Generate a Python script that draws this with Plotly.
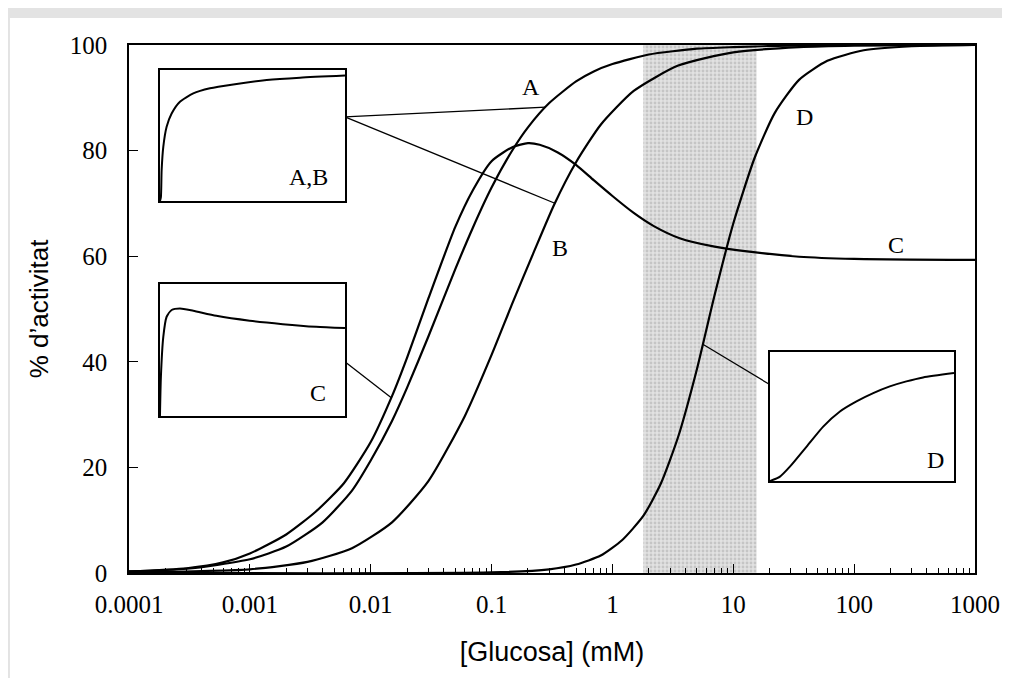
import math
import numpy as np
import plotly.graph_objects as go

# ---------------- data ----------------
GLUC_A = [0.0001, 0.0003, 0.001, 0.002, 0.004, 0.007, 0.01, 0.015, 0.02, 0.03, 0.05, 0.07,
          0.1, 0.15, 0.2, 0.3, 0.5, 0.7, 1, 2, 5, 10, 30, 100, 1000]
ACT_A = [0.3, 0.8, 2.6, 5.0, 9.6, 15.6, 21.3, 28.8, 35.1, 44.8, 57.5, 65.4,
         73.0, 80.2, 84.4, 89.0, 93.1, 95.0, 96.4, 98.2, 99.3, 99.6, 99.9, 100, 100]

GLUC_B = [0.0001, 0.001, 0.003, 0.007, 0.015, 0.03, 0.06, 0.1, 0.15, 0.22, 0.33, 0.5,
          0.8, 1.5, 3.5, 10, 35, 100, 1000]
ACT_B = [0.1, 0.7, 2.1, 4.7, 9.6, 17.4, 29.7, 41.3, 51.3, 60.4, 69.8, 77.8,
         84.9, 91.3, 96.1, 98.6, 99.6, 99.9, 100]

GLUC_C = [0.0001, 0.0003, 0.0006, 0.001, 0.002, 0.0035, 0.006, 0.01, 0.015, 0.02, 0.03,
          0.05, 0.07, 0.1, 0.15, 0.2, 0.25, 0.35, 0.5, 0.7, 1, 1.5, 2.2, 3.6, 7, 13,
          35, 100, 1000]
ACT_C = [0.3, 0.9, 2.0, 3.7, 7.3, 11.6, 17.0, 24.8, 33.5, 40.8, 52.0,
         65.5, 72.5, 78.0, 80.7, 81.4, 81.1, 79.7, 77.3, 74.4, 71.4, 68.2, 65.7, 63.4, 61.8, 60.9,
         59.9, 59.5, 59.3]

GLUC_D = [0.0001, 0.1, 0.3, 0.5, 0.8, 1.2, 1.8, 2.5, 3.5, 5, 7, 10, 15, 22, 35,
          60, 120, 300, 1000]
ACT_D = [0, 0.1, 0.7, 1.6, 3.3, 6.2, 10.8, 16.8, 25.8, 38.6, 52.6, 66.2, 78.6, 87.1, 93.4,
         97.0, 99.0, 99.76, 100]

SHADE_RANGE = [1.8, 15.6]

# inset curves (normalised units)
INSET_AB_U = [0, 0.005, 0.009, 0.018, 0.036, 0.063, 0.108, 0.18, 0.27, 0.396, 0.577, 0.757, 1.0]
INSET_AB_V = [0, 0.03, 0.235, 0.413, 0.566, 0.668, 0.758, 0.821, 0.86, 0.89, 0.923, 0.941, 0.957]
INSET_C_U = [0, 0.005, 0.018, 0.036, 0.063, 0.108, 0.18, 0.305, 0.485, 0.664, 0.844, 1.0]
INSET_C_V = [0, 0.296, 0.6, 0.752, 0.803, 0.815, 0.797, 0.759, 0.722, 0.696, 0.676, 0.666]
INSET_D_U = [0, 0.054, 0.108, 0.199, 0.289, 0.38, 0.47, 0.561, 0.651, 0.741, 0.832, 1.0]
INSET_D_V = [0, 0.034, 0.111, 0.267, 0.422, 0.539, 0.617, 0.681, 0.733, 0.772, 0.803, 0.837]

X_TICKS = [0.0001, 0.001, 0.01, 0.1, 1, 10, 100, 1000]
X_TICKTEXT = ["0.0001", "0.001", "0.01", "0.1", "1", "10", "100", "1000"]
Y_TICKS = [0, 20, 40, 60, 80, 100]

CURVE_LABELS = [("A", 0.211, 92.1), ("B", 0.367, 61.6), ("C", 224, 62.1), ("D", 39, 86.4)]

# connectors: inset edge anchor points (data units of the main axes)
AB_EDGE = (0.00612, 86.4)
C_EDGE = (0.00612, 40.0)
D_EDGE = (20.0, 35.7)


def on_curve(xs, ys, x):
    return float(np.interp(math.log10(x), np.log10(xs), ys))


# ---------------- figure ----------------
fig = go.Figure()

# shaded band
fig.add_trace(go.Scatter(
    x=[SHADE_RANGE[0], SHADE_RANGE[1], SHADE_RANGE[1], SHADE_RANGE[0], SHADE_RANGE[0]],
    y=[0, 0, 100, 100, 0], mode="lines", fill="toself", line=dict(width=0),
    fillcolor="#d6d6d6",
    fillpattern=dict(shape=".", bgcolor="#e2e2e2", fgcolor="#a8a8a8", size=4, solidity=0.4),
    hoverinfo="skip", showlegend=False))

for gx, gy in [(GLUC_A, ACT_A), (GLUC_B, ACT_B), (GLUC_C, ACT_C), (GLUC_D, ACT_D)]:
    fig.add_trace(go.Scatter(x=gx, y=gy, mode="lines",
                             line=dict(color="black", width=2.2, shape="spline", smoothing=0.6),
                             showlegend=False, hoverinfo="skip"))

# connector lines
conns = [
    (AB_EDGE, 0.28, GLUC_A, ACT_A),
    (AB_EDGE, 0.334, GLUC_B, ACT_B),
    (C_EDGE, 0.0148, GLUC_C, ACT_C),
    (D_EDGE, 5.6, GLUC_D, ACT_D),
]
for (ex, ey), gx, xs, ys in conns:
    fig.add_trace(go.Scatter(x=[ex, gx], y=[ey, on_curve(xs, ys, gx)], mode="lines",
                             line=dict(color="black", width=1.3),
                             showlegend=False, hoverinfo="skip"))

# inset curves
for u, v, ax in [(INSET_AB_U, INSET_AB_V, "2"), (INSET_C_U, INSET_C_V, "3"), (INSET_D_U, INSET_D_V, "4")]:
    fig.add_trace(go.Scatter(x=u, y=v, mode="lines", xaxis="x" + ax, yaxis="y" + ax,
                             line=dict(color="black", width=2.0, shape="spline", smoothing=0.6),
                             showlegend=False, hoverinfo="skip"))

serif = "Liberation Serif, Times New Roman, serif"
sans = "Liberation Sans, Arial, sans-serif"

annotations = []
for txt, gx, gy in CURVE_LABELS:
    annotations.append(dict(x=math.log10(gx), y=gy, xref="x", yref="y", text=txt, showarrow=False,
                            font=dict(family=serif, size=24, color="black")))
for txt, ax, u, v in [("A,B", "2", 0.805, 0.185), ("C", "3", 0.854, 0.174), ("D", "4", 0.897, 0.163)]:
    annotations.append(dict(x=u, y=v, xref="x" + ax, yref="y" + ax, text=txt, showarrow=False,
                            font=dict(family=serif, size=24, color="black")))


def inset_axes(xdom, ydom, n):
    common = dict(range=[0, 1], showline=True, mirror=True, linecolor="black", linewidth=1.5,
                  showticklabels=False, ticks="", showgrid=False, zeroline=False, fixedrange=True)
    return {
        "xaxis" + n: dict(domain=xdom, anchor="y" + n, **common),
        "yaxis" + n: dict(domain=ydom, anchor="x" + n, **common),
    }


minor_vals = [k * 10 ** e for e in range(-4, 3) for k in range(2, 10)]

fig.update_layout(
    width=1010, height=678,
    margin=dict(l=121, r=43, t=37, b=113),
    paper_bgcolor="#e3e3e3",
    plot_bgcolor="white",
    xaxis=dict(type="log", range=[-4, 3], tickvals=X_TICKS, ticktext=X_TICKTEXT,
               ticks="inside", ticklen=9, tickwidth=1.2, tickcolor="black",
               minor=dict(ticks="inside", ticklen=5, tickwidth=1, tickcolor="black", tickvals=minor_vals),
               showline=True, mirror=True, linecolor="black", linewidth=1.6,
               showgrid=False, zeroline=False, ticklabelstandoff=8,
               tickfont=dict(family=serif, size=25, color="black"),
               title=dict(text="[Glucosa] (mM)", font=dict(family=sans, size=27, color="black"), standoff=25)),
    yaxis=dict(range=[0, 100], tickvals=Y_TICKS, ticks="inside", ticklen=9, tickwidth=1.2,
               tickcolor="black", showline=True, mirror=True, linecolor="black", linewidth=1.6,
               showgrid=False, zeroline=False, ticklabelstandoff=15,
               tickfont=dict(family=serif, size=25, color="black"),
               title=dict(text="% d’activitat", font=dict(family=sans, size=26, color="black"), standoff=14)),
    annotations=annotations,
    shapes=[dict(type="rect", xref="paper", yref="paper", x0=-0.1407, x1=1.0331, y0=-0.3, y1=1.0511,
                 fillcolor="white", line=dict(width=0), layer="below")],
    showlegend=False,
)
fig.update_layout(**inset_axes([0.0366, 0.2553], [0.7045, 0.9527], "2"))
fig.update_layout(**inset_axes([0.0366, 0.2553], [0.2973, 0.5473], "3"))
fig.update_layout(**inset_axes([0.7577, 0.9752], [0.1742, 0.4186], "4"))

fig.write_html("out.html")
